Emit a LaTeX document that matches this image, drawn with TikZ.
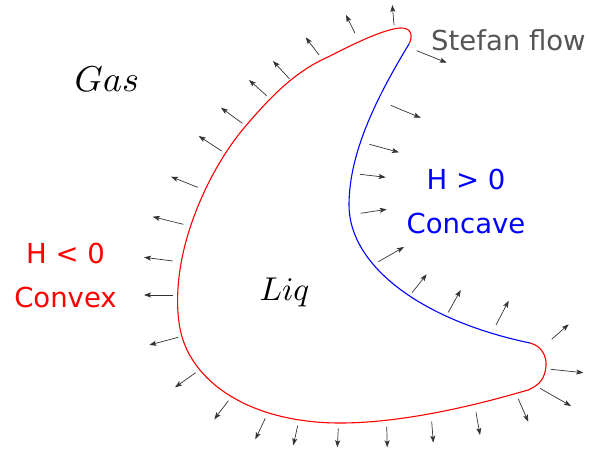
\documentclass[tikz,border=0pt]{standalone}
\usepackage{fontspec}
\setsansfont{DejaVu Sans}
\usetikzlibrary{arrows.meta}
\definecolor{vexcol}{RGB}{255, 0, 0}
\definecolor{cavecol}{RGB}{0, 0, 255}
\definecolor{flowcol}{RGB}{85, 85, 85}
\tikzset{
  phase/.style={inner sep=0pt, anchor=base west},
  curvtext/.style={font=\sffamily\fontsize{27.5}{30}\selectfont, inner sep=0pt, anchor=base},
  flux/.style={-{Stealth[length=7pt, width=5pt, inset=1.5pt]}, line width=0.7pt, black!80},
  wall/.style={line width=1.1pt},
}

\begin{document}
\begin{tikzpicture}[x=1pt, y=-1pt]
  \useasboundingbox (0,0) rectangle (597,453);

  \coordinate (top) at (409,44);
  \coordinate (tip) at (530,343);
  \draw[wall, vexcol] (tip) .. controls (541,345.5) and (547,356) .. (546,366)
    .. controls (545,378) and (540,385) .. (528,390)
    .. controls (470,407) and (400,423) .. (340,423)
    .. controls (260,423) and (200,390) .. (183,340)
    .. controls (175,316) and (176,280) .. (185,245)
    .. controls (194,210) and (215,160) .. (250,121)
    .. controls (275,92) and (298,70) .. (330,56)
    .. controls (355,43) and (385,29) .. (400,28)
    .. controls (412,27) and (413,37) .. (top);
  \draw[wall, cavecol] (top) .. controls (380,92) and (349,150) .. (349,205)
    .. controls (349,265) and (420,320) .. (tip);

  \foreach \tx/\ty/\hx/\hy in {
      197.7/187.3/171/176.7, 221.7/151/198.7/136, 242.3/123.3/221/107.7,
      266.7/95.7/249/80, 289.3/78.7/273/61, 319/55/305.7/37.3,
      355/33.3/346/15, 394/25/392.3/5, 416.7/50.7/446.7/62.7,
      390.7/105.3/420.7/117.8, 369.3/144.3/399/152.3, 360/174.3/385.7/177.3,
      360.7/213.3/386.7/209.3, 378.3/261.7/404/247, 412/292.7/426.7/274.3,
      448.3/312.3/460.7/290, 496/325/508.7/300.7, 551.7/339.3/568.7/324.3,
      550.7/369.3/583.3/372.7, 540/388.3/571/406, 518.3/399/528.3/421.7,
      476/412.3/480/435, 431.7/421.7/433.3/442.7, 386.7/426.7/387.3/447.3,
      338.3/428.3/337.3/447.3, 297.7/425.7/293.3/445.3, 265.3/418.3/255.3/439.3,
      228.3/400.7/214.3/419.3, 195.7/372.7/175/387.3, 178.3/337.3/149.3/345,
      172.7/295/144/295, 172.7/261/144/257.3, 183.3/224.3/152.7/216.7}
    \draw[flux] (\tx,\ty) -- (\hx,\hy);

  \node[phase, scale=3.6] (gas) at (74,91) {$Gas$};
  \node[phase, scale=3.3] (liq) at (259,300) {$Liq$};

  \node[phase, font=\sffamily\fontsize{27.5}{30}\selectfont, text=flowcol] (stefan) at (431,50) {Stefan flow};

  \node[curvtext, text=cavecol] (hpos) at (466,189.3) {H > 0};
  \node[curvtext, text=cavecol] (concave) at (466,233.3) {Concave};
  \node[curvtext, text=vexcol] (hneg) at (65.5,263.3) {H < 0};
  \node[curvtext, text=vexcol] (convex) at (65.5,307.3) {Convex};
\end{tikzpicture}
\end{document}
